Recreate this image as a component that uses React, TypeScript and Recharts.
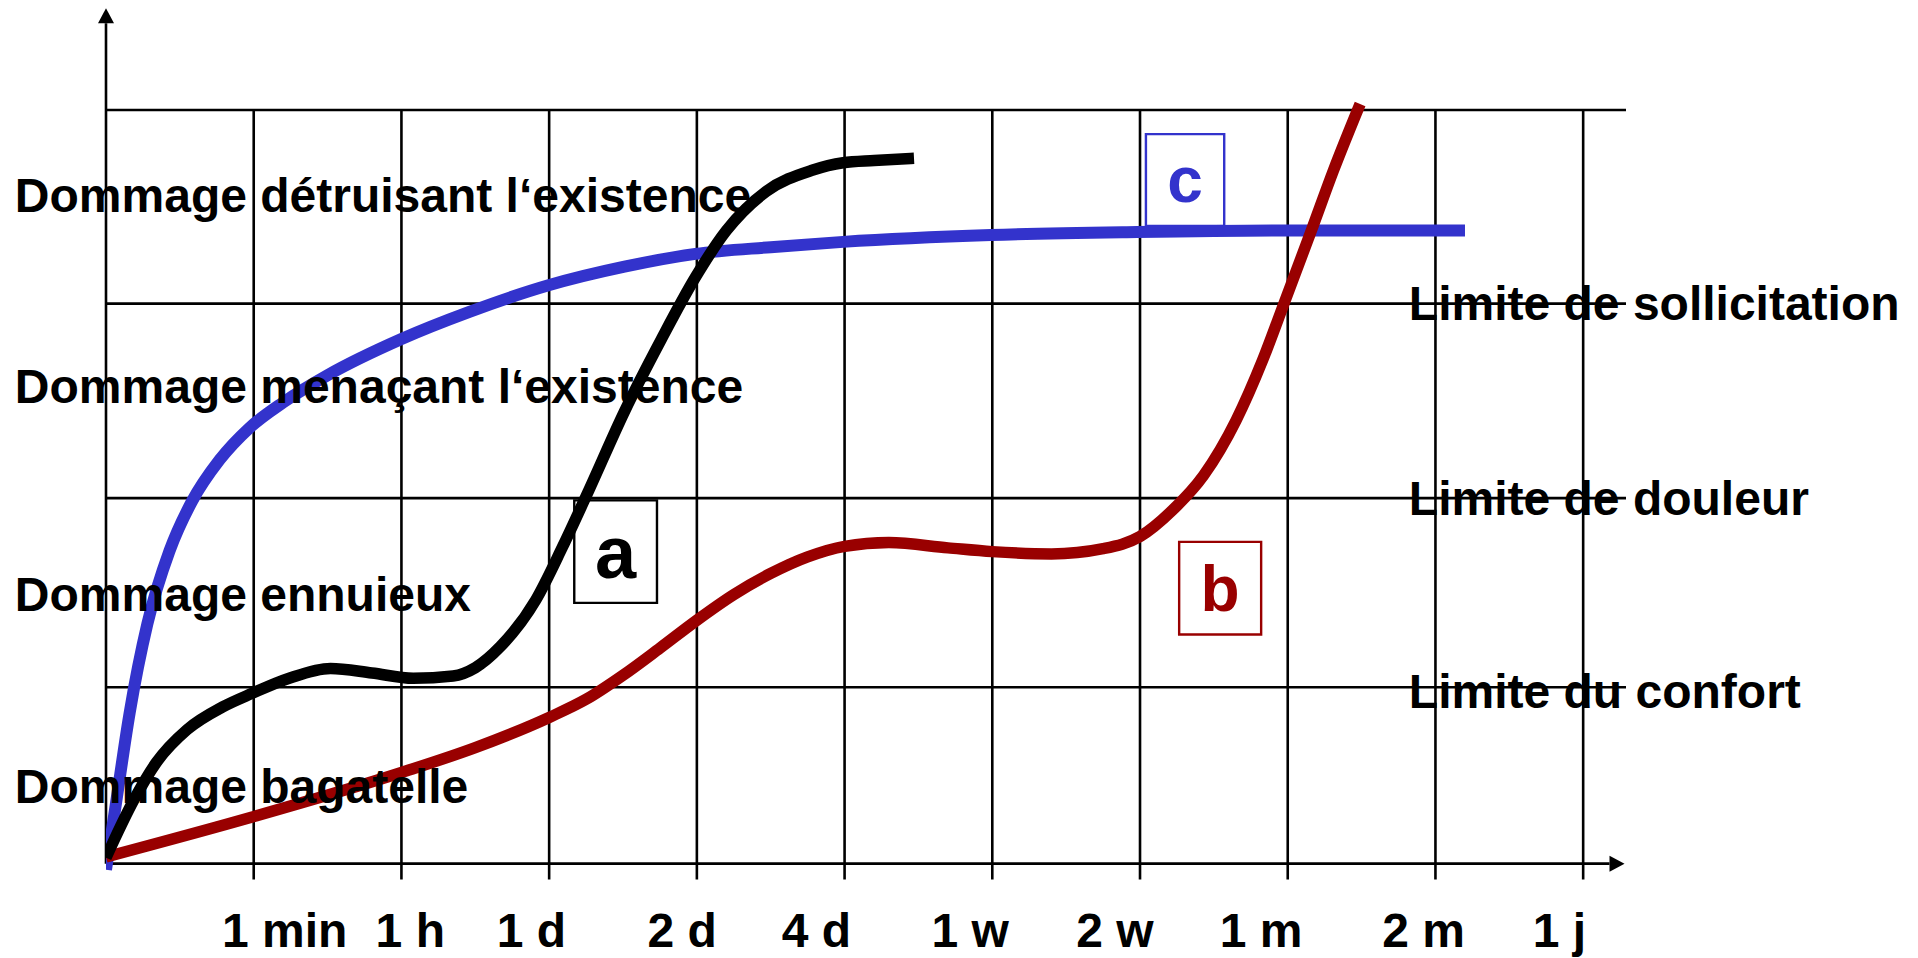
import React from 'react';
import { LineChart, Line, XAxis, YAxis, ReferenceLine, ReferenceDot, ReferenceArea } from 'recharts';

// ---- axis / grid data ----
const gridTimes = [1, 2, 3, 4, 5, 6, 7, 8, 9, 10];
const timeLabels = ['1 min', '1 h', '1 d', '2 d', '4 d', '1 w', '2 w', '1 m', '2 m', '1 j'];
const timeLabelPos = [1.21, 2.06, 2.88, 3.9, 4.81, 5.85, 6.83, 7.82, 8.92, 9.84];
const levelLines = [23.4, 48.5, 74.3, 100];

const damageLabels = [
  'Dommage bagatelle',
  'Dommage ennuieux',
  'Dommage menaçant l‘existence',
  'Dommage détruisant l‘existence',
];
const damageLabelLevels = [8.1, 33.5, 61.1, 86.5];
const damageLabelTime = -0.617;

const limitLabels = ['Limite du confort', 'Limite de douleur', 'Limite de sollicitation'];
const limitLabelLevels = [20.7, 46.3, 72.2];
const limitLabelTime = 8.82;

// ---- curves ----
const curveA = [
  { t: 0, v: 0.8 }, { t: 0.19, v: 8.5 }, { t: 0.34, v: 13.4 }, { t: 0.55, v: 17.8 },
  { t: 0.79, v: 20.8 }, { t: 0.99, v: 22.6 }, { t: 1.24, v: 24.6 }, { t: 1.52, v: 25.9 },
  { t: 1.8, v: 25.3 }, { t: 2.08, v: 24.6 }, { t: 2.35, v: 24.9 }, { t: 2.5, v: 26.0 },
  { t: 2.67, v: 28.8 }, { t: 2.91, v: 35.0 }, { t: 3.09, v: 42.0 },
  { t: 3.27, v: 49.6 }, { t: 3.51, v: 60.0 }, { t: 3.76, v: 69.6 }, { t: 3.99, v: 77.8 },
  { t: 4.2, v: 84.0 }, { t: 4.47, v: 89.2 }, { t: 4.78, v: 92.0 }, { t: 4.99, v: 93.0 },
  { t: 5.2, v: 93.3 }, { t: 5.47, v: 93.6 },
];
const curveB = [
  { t: 0, v: 0.9 }, { t: 0.99, v: 6.2 }, { t: 2.0, v: 12.1 }, { t: 2.5, v: 15.4 },
  { t: 3.0, v: 19.4 }, { t: 3.25, v: 21.8 }, { t: 3.5, v: 25.0 }, { t: 3.75, v: 28.6 },
  { t: 4.0, v: 32.3 }, { t: 4.25, v: 35.7 }, { t: 4.5, v: 38.5 }, { t: 4.75, v: 40.7 },
  { t: 5.0, v: 42.1 }, { t: 5.3, v: 42.6 }, { t: 5.7, v: 41.9 }, { t: 6.0, v: 41.4 },
  { t: 6.4, v: 41.1 }, { t: 6.75, v: 41.8 }, { t: 7.0, v: 43.4 }, { t: 7.22, v: 46.9 },
  { t: 7.43, v: 51.5 }, { t: 7.65, v: 58.8 }, { t: 7.83, v: 66.8 }, { t: 7.98, v: 74.6 },
  { t: 8.16, v: 84.0 }, { t: 8.31, v: 92.0 }, { t: 8.49, v: 100.8 },
];
const curveC = [
  { t: 0, v: -0.8 }, { t: 0.066, v: 7.8 }, { t: 0.16, v: 20.0 }, { t: 0.28, v: 31.8 },
  { t: 0.43, v: 41.5 }, { t: 0.58, v: 48.0 }, { t: 0.77, v: 53.6 }, { t: 0.97, v: 57.8 },
  { t: 1.2, v: 61.2 }, { t: 1.5, v: 64.8 }, { t: 2.0, v: 69.6 }, { t: 2.46, v: 73.2 },
  { t: 2.99, v: 76.7 }, { t: 3.51, v: 79.2 }, { t: 3.99, v: 80.9 }, { t: 4.5, v: 81.8 },
  { t: 4.99, v: 82.5 }, { t: 5.99, v: 83.4 }, { t: 6.98, v: 83.8 }, { t: 7.98, v: 84.0 },
  { t: 9.2, v: 84.0 },
];

// ---- annotation boxes ----
const boxLetters = ['a', 'b', 'c'];
const boxTimes = [[3.17, 3.73], [7.265, 7.82], [7.04, 7.57]];
const boxLevels = [[34.6, 48.2], [30.4, 42.7], [84.6, 96.8]];

// ---- styles ----
const FONT = '"Liberation Sans", Arial, Helvetica, sans-serif';
const COLORS = { a: '#000000', b: '#990000', c: '#3333CC' } as Record<string, string>;
const LETTER_SIZE = { a: 74, b: 64, c: 64 } as Record<string, number>;
const GRID_W = 2.6;
const textStyle: React.CSSProperties = { fontFamily: FONT, fontWeight: 700, fontSize: 48, fill: '#000' };

const ArrowLine = (props: any) => {
  const { x1, y1, x2, y2 } = props;
  const dx = x2 - x1;
  const dy = y2 - y1;
  const len = Math.hypot(dx, dy) || 1;
  const ux = dx / len;
  const uy = dy / len;
  const L = 15;
  const W = 8;
  const bx = x2 - ux * L;
  const by = y2 - uy * L;
  const px = -uy * W;
  const py = ux * W;
  return (
    <g>
      <line x1={x1} y1={y1} x2={bx} y2={by} stroke="#000" strokeWidth={GRID_W} />
      <polygon points={`${x2},${y2} ${bx + px},${by + py} ${bx - px},${by - py}`} fill="#000" />
    </g>
  );
};

const makeText = (text: string) => (p: any) => (
  <text x={p.cx} y={p.cy} textAnchor="start" style={textStyle}>
    {text}
  </text>
);

const TimeTick = (props: any) => {
  const { x, y, payload } = props;
  const i = timeLabelPos.indexOf(payload.value);
  return (
    <text x={x} y={y} dy={66} textAnchor="middle" style={textStyle}>
      {timeLabels[i]}
    </text>
  );
};

const makeBoxLabel = (letter: string) => (p: any) => {
  const vb = p.viewBox || {};
  const cx = vb.x + vb.width / 2;
  const cy = vb.y + vb.height / 2;
  const fs = LETTER_SIZE[letter];
  return (
    <text
      x={cx}
      y={cy}
      dy={fs * 0.35}
      textAnchor="middle"
      style={{ fontFamily: FONT, fontWeight: 700, fontSize: fs, fill: COLORS[letter] }}
    >
      {letter}
    </text>
  );
};

export default function App() {
  return (
    <div style={{ position: 'absolute', left: 0, top: 0, width: 1918, height: 958, overflow: 'hidden', background: '#fff' }}>
      <LineChart width={1918} height={958} margin={{ top: 8, right: 292, bottom: 0, left: 106 }}>
        <XAxis
          type="number"
          dataKey="t"
          domain={[0, 10.29]}
          allowDataOverflow
          ticks={timeLabelPos}
          interval={0}
          tick={<TimeTick />}
          axisLine={false}
          tickLine={false}
          tickSize={0}
          tickMargin={0}
          height={77}
        />
        <YAxis hide type="number" domain={[-2.3, 113.53]} allowDataOverflow />

        {gridTimes.map((t) => (
          <ReferenceLine
            key={'vx' + t}
            ifOverflow="visible"
            segment={[{ x: t, y: -2.1 }, { x: t, y: 100 }]}
            stroke="#000"
            strokeWidth={GRID_W}
          />
        ))}
        {levelLines.map((v) => (
          <ReferenceLine
            key={'hz' + v}
            ifOverflow="visible"
            segment={[{ x: 0, y: v }, { x: 10.29, y: v }]}
            stroke="#000"
            strokeWidth={GRID_W}
          />
        ))}
        <ReferenceLine
          ifOverflow="visible"
          segment={[{ x: 0, y: 0 }, { x: 10.28, y: 0 }]}
          stroke="#000"
          shape={ArrowLine}
        />
        <ReferenceLine
          ifOverflow="visible"
          segment={[{ x: 0, y: 0 }, { x: 0, y: 113.5 }]}
          stroke="#000"
          shape={ArrowLine}
        />

        {damageLabels.map((s, i) => (
          <ReferenceDot
            key={'dl' + i}
            x={damageLabelTime}
            y={damageLabelLevels[i]}
            ifOverflow="visible"
            shape={makeText(s)}
          />
        ))}
        {limitLabels.map((s, i) => (
          <ReferenceDot
            key={'ll' + i}
            x={limitLabelTime}
            y={limitLabelLevels[i]}
            ifOverflow="visible"
            shape={makeText(s)}
          />
        ))}

        {boxLetters.map((l, i) => (
          <ReferenceArea
            key={'box' + l}
            x1={boxTimes[i][0]}
            x2={boxTimes[i][1]}
            y1={boxLevels[i][0]}
            y2={boxLevels[i][1]}
            ifOverflow="visible"
            fill="none"
            fillOpacity={0}
            stroke={COLORS[l]}
            strokeWidth={2.4}
            label={makeBoxLabel(l)}
          />
        ))}

        <Line data={curveC} dataKey="v" type="monotone" stroke="#3333CC" strokeWidth={12} dot={false} activeDot={false} isAnimationActive={false} />
        <Line data={curveB} dataKey="v" type="monotone" stroke="#990000" strokeWidth={11.5} dot={false} activeDot={false} isAnimationActive={false} />
        <Line data={curveA} dataKey="v" type="monotone" stroke="#000000" strokeWidth={11.5} dot={false} activeDot={false} isAnimationActive={false} />
      </LineChart>
    </div>
  );
}
